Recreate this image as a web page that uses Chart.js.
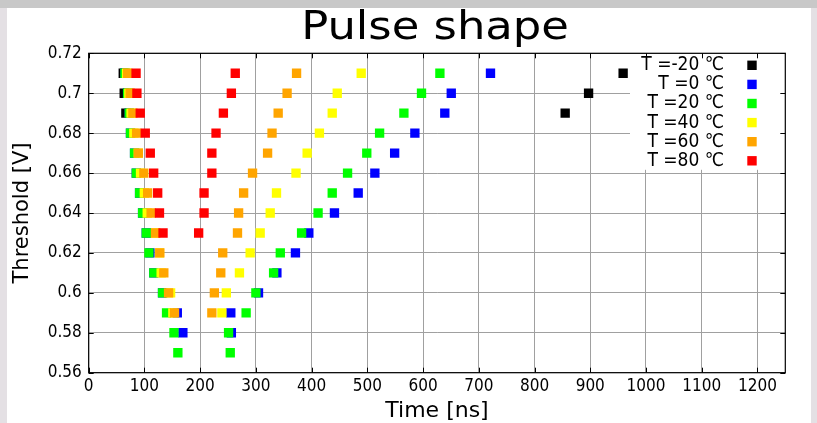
<!DOCTYPE html>
<html>
<head>
<meta charset="utf-8">
<script src="https://cdn.jsdelivr.net/npm/chart.js@4.4.1/dist/chart.umd.min.js"></script>
<style>
html,body{margin:0;padding:0;background:#ffffff;}
canvas{display:block;}
</style>
</head>
<body>
<canvas id="c" width="817" height="423"></canvas>
<script>
// ---- data ----
const thresholds = [0.57,0.58,0.59,0.60,0.61,0.62,0.63,0.64,0.65,0.66,0.67,0.68,0.69,0.70,0.71];

const seriesLabels = ['T =-20 \u2103','T =0 \u2103','T =20 \u2103','T =40 \u2103','T =60 \u2103','T =80 \u2103'];
const seriesColors = ['#000000','#0000ff','#00ff00','#ffff00','#ffa500','#ff0000'];

// leading-edge and trailing-edge times [ns] per threshold
const leadM20  = [null,null,null,null,null,null,null,null,null,null,null,null,66.7,63.7,62];
const trailM20 = [null,null,null,null,null,null,null,null,null,null,null,null,855,897,959];
const lead0    = [null,169,159,132.5,116.8,110,103.3,96.7,91.3,85.4,82.3,75,72.7,69.8,65];
const trail0   = [null,256,255,304.7,337.7,371,395,441,483.6,513.5,549,585.3,639,650.6,721];
const lead20   = [160,153,139.7,132.5,116.8,108,103.3,96.7,91.3,85.4,82.3,75,72.7,69.8,65];
const trail20  = [254,251,282.5,300,331.8,343.8,382,411.6,437,464.5,499,522,565.6,597.2,630.2];
const lead40   = [null,null,151,147,130,127,120,105,99.8,93,89,81,76,72,68];
const trail40  = [null,null,239,247,270.5,289.7,307.7,325.7,337,372,392,414,437,446,489];
const lead60   = [null,null,154,143.3,134.8,127.6,120,112,105.8,99,89,86,79.3,74.5,70];
const trail60  = [null,null,221,225.5,237,240.5,267,269,278,294,321,329,340,356,373];
const lead80   = [null,null,null,null,null,null,133.4,127,123.8,116.6,110.5,101.5,92.5,86.5,85];
const trail80  = [null,null,null,null,null,null,197.3,207,207,221,221,228.5,241.7,256,263];

const leads  = [leadM20, lead0, lead20, lead40, lead60, lead80];
const trails = [trailM20, trail0, trail20, trail40, trail60, trail80];

const xTicks = [0,100,200,300,400,500,600,700,800,900,1000,1100,1200];
const xTickLabels = ['0','100','200','300','400','500','600','700','800','900','1000','1100','1200'];
const yTicks = [0.56,0.58,0.60,0.62,0.64,0.66,0.68,0.70,0.72];
const yTickLabels = ['0.56','0.58','0.6','0.62','0.64','0.66','0.68','0.7','0.72'];

const titleText = 'Pulse shape';
const xTitle = 'Time [ns]';
const yTitle = 'Threshold [V]';

// ---- build datasets ----
function pts(lead, trail){
  const out = [];
  thresholds.forEach((t,i)=>{
    if (lead[i] != null) out.push({x: lead[i], y: t});
    if (trail[i] != null) out.push({x: trail[i], y: t});
  });
  return out;
}
const datasets = seriesLabels.map((lab,i)=>({
  label: lab,
  data: pts(leads[i], trails[i]),
  backgroundColor: seriesColors[i],
  borderColor: seriesColors[i],
  borderWidth: 0,
  pointStyle: 'rect',
  pointRadius: 6.6,
  pointHoverRadius: 6.6,
  showLine: false,
  order: seriesLabels.length - 1 - i
}));

const condFont = "'DejaVu Sans Condensed', 'DejaVu Sans', sans-serif";
const regFont = "'DejaVu Sans', sans-serif";

const decor = {
  id: 'decor',
  beforeDraw(chart){
    const ctx = chart.ctx;
    ctx.save();
    ctx.fillStyle = '#e4e0e4';
    ctx.fillRect(0,0,817,423);
    ctx.fillStyle = '#c8c8c8';
    ctx.fillRect(0,0,817,8);
    ctx.fillStyle = '#ffffff';
    ctx.fillRect(7,8,804,415);
    ctx.restore();
  },
  afterDatasetsDraw(chart){
    const ctx = chart.ctx, a = chart.chartArea;
    ctx.save();
    // legend box
    ctx.fillStyle = '#ffffff';
    ctx.fillRect(630, a.top + 0.5, a.right - 630 - 0.5, 116);
    ctx.font = '19px ' + condFont;
    ctx.textAlign = 'right';
    ctx.textBaseline = 'middle';
    seriesLabels.forEach((lab,i)=>{
      const y = 65.3 + i*19.1;
      ctx.fillStyle = seriesColors[i];
      ctx.fillRect(752-4.7, y-4.7, 9.4, 9.4);
      ctx.fillStyle = '#000000';
      ctx.fillText(lab, 724, y);
    });
    ctx.restore();
  },
  afterDraw(chart){
    const ctx = chart.ctx, a = chart.chartArea;
    const xs = chart.scales.x, ys = chart.scales.y;
    ctx.save();
    ctx.strokeStyle = '#000000';
    ctx.lineWidth = 1;
    ctx.beginPath();
    xTicks.forEach(v=>{
      const p = Math.round(xs.getPixelForValue(v)) + 0.5;
      ctx.moveTo(p, a.bottom); ctx.lineTo(p, a.bottom - 5);
      ctx.moveTo(p, a.top); ctx.lineTo(p, a.top + 5);
    });
    yTicks.forEach(v=>{
      const p = Math.round(ys.getPixelForValue(v)) + 0.5;
      ctx.moveTo(a.left, p); ctx.lineTo(a.left + 5, p);
      ctx.moveTo(a.right, p); ctx.lineTo(a.right - 5, p);
    });
    ctx.stroke();
    ctx.lineWidth = 1.2;
    ctx.strokeRect(a.left, a.top, a.right - a.left, a.bottom - a.top);
    // title
    ctx.fillStyle = '#000000';
    ctx.font = '39px ' + regFont;
    ctx.textAlign = 'center';
    ctx.textBaseline = 'alphabetic';
    ctx.translate(435, 39.3);
    ctx.scale(1.15, 1);
    ctx.fillText(titleText, 0, 0);
    ctx.restore();
  }
};

new Chart(document.getElementById('c'), {
  type: 'scatter',
  data: { datasets },
  plugins: [decor],
  options: {
    responsive: false,
    animation: false,
    events: [],
    layout: { padding: { left: 0, right: 31.7, top: 53.3, bottom: 0 } },
    plugins: { legend: { display: false }, title: { display: false }, tooltip: { enabled: false } },
    scales: {
      x: {
        type: 'linear', min: 0, max: 1250,
        afterBuildTicks: s => { s.ticks = xTicks.map(v => ({ value: v })); },
        afterFit: s => { s.height = 423 - 372.7; },
        ticks: { callback: (v, i) => xTickLabels[i], font: { family: condFont, size: 17 }, color: '#000000', padding: 4, maxRotation: 0, autoSkip: false },
        grid: { color: '#a0a0a0', lineWidth: 1, drawTicks: false },
        border: { display: false },
        title: { display: true, text: xTitle, color: '#000000', font: { family: regFont, size: 22 }, padding: { top: 0, bottom: -1 } }
      },
      y: {
        type: 'linear', min: 0.56, max: 0.72,
        afterBuildTicks: s => { s.ticks = yTicks.map(v => ({ value: v })); },
        afterFit: s => { s.width = 88.7; },
        ticks: { callback: (v, i) => yTickLabels[i], font: { family: condFont, size: 17 }, color: '#000000', padding: 7, autoSkip: false },
        grid: { color: '#a0a0a0', lineWidth: 1, drawTicks: false },
        border: { display: false },
        title: { display: true, text: yTitle, color: '#000000', font: { family: regFont, size: 21 }, padding: { top: 10, bottom: 0 } }
      }
    }
  }
});
</script>
</body>
</html>
